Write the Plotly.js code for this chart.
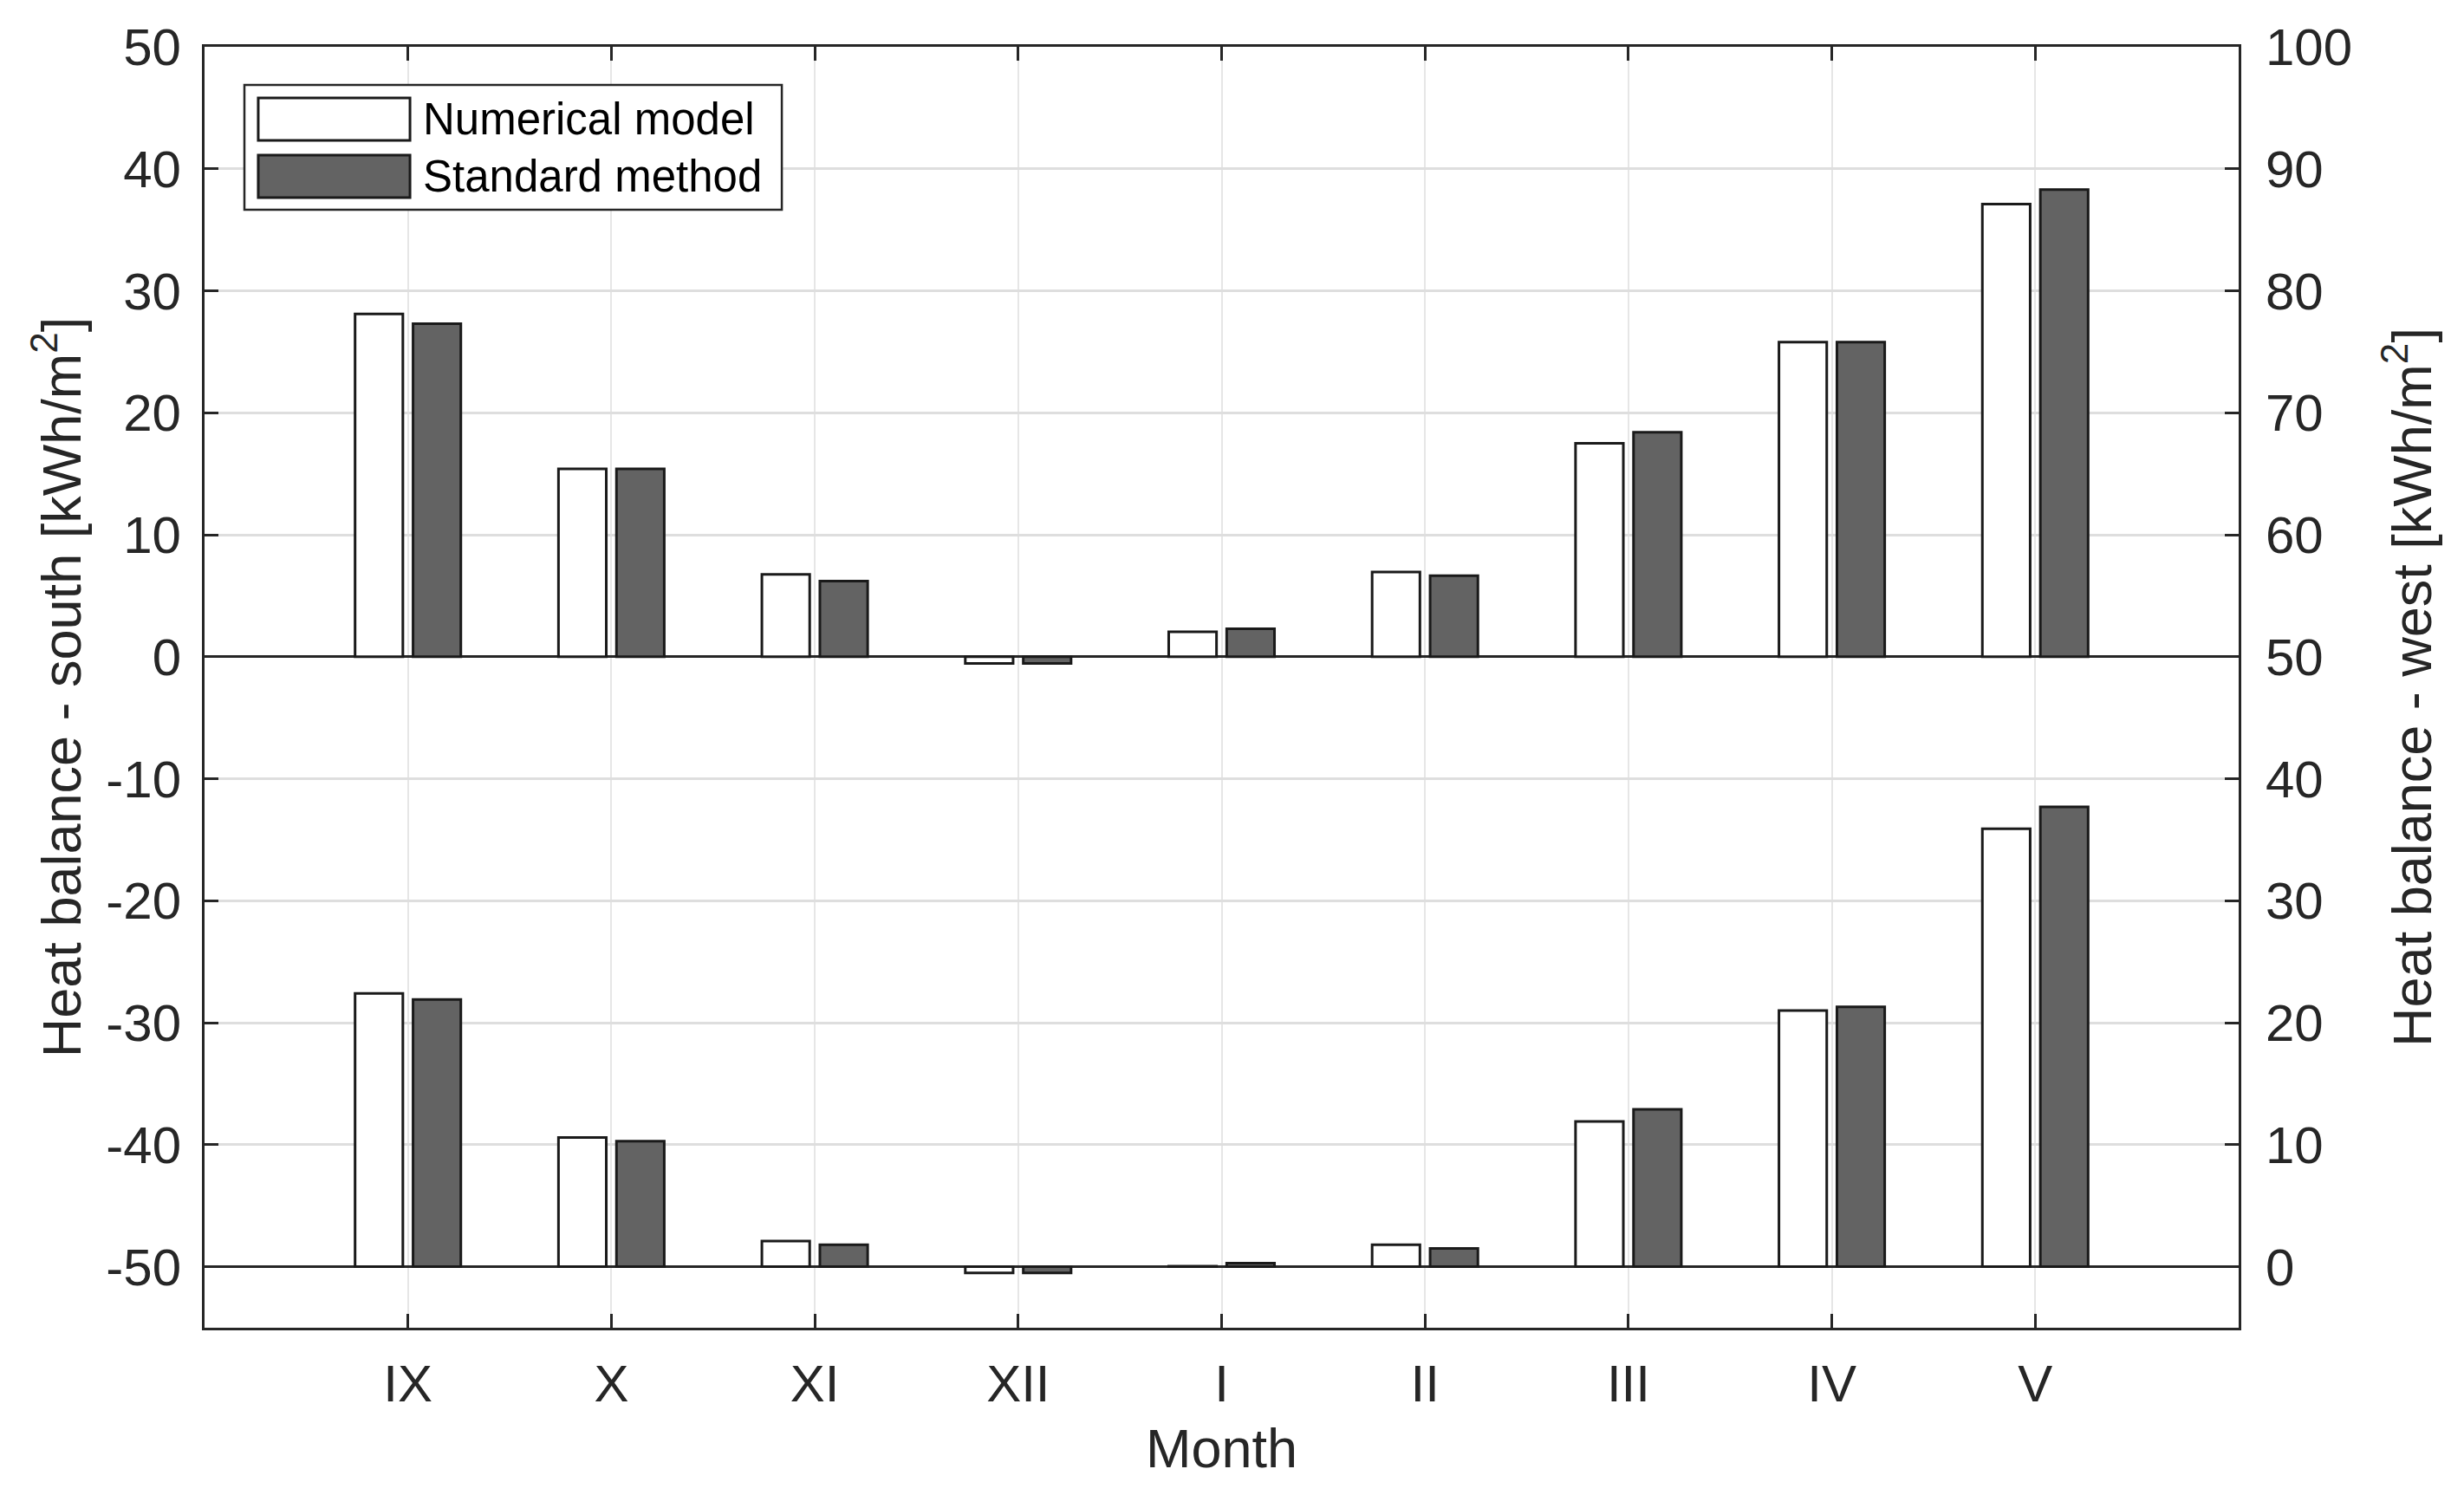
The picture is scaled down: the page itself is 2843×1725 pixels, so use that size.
<!DOCTYPE html>
<html>
<head>
<meta charset="utf-8">
<script src="https://cdn.plot.ly/plotly-3.0.1.min.js"></script>
<style>
  html, body { margin: 0; padding: 0; background: #ffffff; }
  #chart { width: 2843px; height: 1725px; }
</style>
</head>
<body>
<div id="chart"></div>
<script>
// ---- data ----
const months = ['IX', 'X', 'XI', 'XII', 'I', 'II', 'III', 'IV', 'V'];
const southNumerical = [28.1, 15.4, 6.75, -0.55, 2.05, 6.95, 17.5, 25.8, 37.1];
const southStandard  = [27.3, 15.4, 6.2, -0.55, 2.3, 6.65, 18.4, 25.8, 38.3];
const westNumerical  = [22.4, 10.6, 2.1, -0.5, 0.05, 1.8, 11.9, 21.0, 35.9];
const westStandard   = [21.9, 10.3, 1.8, -0.5, 0.3, 1.5, 12.9, 21.3, 37.7];
const seriesNames = ['Numerical model', 'Standard method'];
const leftTickVals = [-50, -40, -30, -20, -10, 0, 10, 20, 30, 40, 50];
const leftTickText = ['-50', '-40', '-30', '-20', '-10', '0', '10', '20', '30', '40', '50'];
const rightTickVals = [0, 10, 20, 30, 40, 50, 60, 70, 80, 90, 100];
const rightTickText = ['0', '10', '20', '30', '40', '50', '60', '70', '80', '90', '100'];

// ---- style ----
const axisColor = '#262626';
const whiteFill = '#ffffff';
const greyFill = '#636363';
const edge = '#1a1a1a';
const fontFam = 'Liberation Sans, Arial, Helvetica, sans-serif';
const barW = 0.235;
const offWhite = -0.26;
const offGrey = 0.025;

function barTrace(y, fill, yaxis, name) {
  return {
    type: 'bar', x: months, y: y, yaxis: yaxis, name: name,
    width: barW, offset: fill === whiteFill ? offWhite : offGrey,
    marker: { color: fill, line: { color: edge, width: 3 } },
    showlegend: false, hoverinfo: 'x+y+name'
  };
}

const data = [
  barTrace(southNumerical, whiteFill, 'y', seriesNames[0] + ' (south)'),
  barTrace(southStandard, greyFill, 'y', seriesNames[1] + ' (south)'),
  barTrace(westNumerical, whiteFill, 'y2', seriesNames[0] + ' (west)'),
  barTrace(westStandard, greyFill, 'y2', seriesNames[1] + ' (west)')
];

// custom legend box (paper coords)
const shapes = [
  { type: 'rect', xref: 'paper', yref: 'paper', x0: 0.0196, x1: 0.2838, y0: 0.8728, y1: 0.9702,
    fillcolor: '#ffffff', line: { color: axisColor, width: 2.5 }, layer: 'above' },
  { type: 'rect', xref: 'paper', yref: 'paper', x0: 0.0264, x1: 0.1010, y0: 0.9269, y1: 0.9601,
    fillcolor: whiteFill, line: { color: edge, width: 3 }, layer: 'above' },
  { type: 'rect', xref: 'paper', yref: 'paper', x0: 0.0264, x1: 0.1010, y0: 0.8823, y1: 0.9154,
    fillcolor: greyFill, line: { color: edge, width: 3 }, layer: 'above' }
];
const annotations = [
  { xref: 'paper', yref: 'paper', x: 0.1066, y: 0.9435, xanchor: 'left', yanchor: 'middle',
    text: seriesNames[0], showarrow: false, font: { family: fontFam, size: 51, color: '#000000' } },
  { xref: 'paper', yref: 'paper', x: 0.1066, y: 0.8988, xanchor: 'left', yanchor: 'middle',
    text: seriesNames[1], showarrow: false, font: { family: fontFam, size: 51, color: '#000000' } }
];

const tickFont = { family: fontFam, size: 60, color: axisColor };
const titleFont = { family: fontFam, size: 63, color: axisColor };

const layout = {
  width: 2843, height: 1725,
  paper_bgcolor: '#ffffff', plot_bgcolor: '#ffffff',
  margin: { l: 236, r: 260, t: 54, b: 193, pad: 0 },
  barmode: 'overlay',
  showlegend: false,
  font: { family: fontFam, color: axisColor },
  xaxis: {
    type: 'category', range: [-1, 9],
    ticks: 'inside', ticklen: 16, tickwidth: 3, tickcolor: axisColor,
    showline: true, linecolor: axisColor, linewidth: 3, mirror: 'ticks',
    showgrid: true, gridcolor: '#e6e6e6', gridwidth: 2,
    tickfont: tickFont, ticklabelstandoff: 10,
    title: { text: 'Month', font: titleFont, standoff: 20 },
    zeroline: false, fixedrange: true
  },
  yaxis: {
    range: [-55, 50], tickmode: 'array', tickvals: leftTickVals, ticktext: leftTickText,
    ticks: 'inside', ticklen: 16, tickwidth: 3, tickcolor: axisColor,
    showline: true, linecolor: axisColor, linewidth: 3,
    showgrid: true, gridcolor: '#dedede', gridwidth: 3,
    zeroline: true, zerolinecolor: axisColor, zerolinewidth: 3,
    tickfont: tickFont, ticklabelstandoff: 12,
    title: { text: 'Heat balance - south [kWh/m<sup>2</sup>]', font: titleFont, standoff: 9 },
    fixedrange: true
  },
  yaxis2: {
    overlaying: 'y', side: 'right',
    range: [-5, 100], tickmode: 'array', tickvals: rightTickVals, ticktext: rightTickText,
    ticks: 'inside', ticklen: 16, tickwidth: 3, tickcolor: axisColor,
    showline: true, linecolor: axisColor, linewidth: 3,
    showgrid: false,
    zeroline: true, zerolinecolor: axisColor, zerolinewidth: 3,
    tickfont: tickFont, ticklabelstandoff: 16,
    title: { text: 'Heat balance - west [kWh/m<sup>2</sup>]', font: titleFont, standoff: 48 },
    fixedrange: true
  },
  shapes: shapes,
  annotations: annotations
};

Plotly.newPlot('chart', data, layout, { displayModeBar: false, staticPlot: true });
</script>
</body>
</html>
